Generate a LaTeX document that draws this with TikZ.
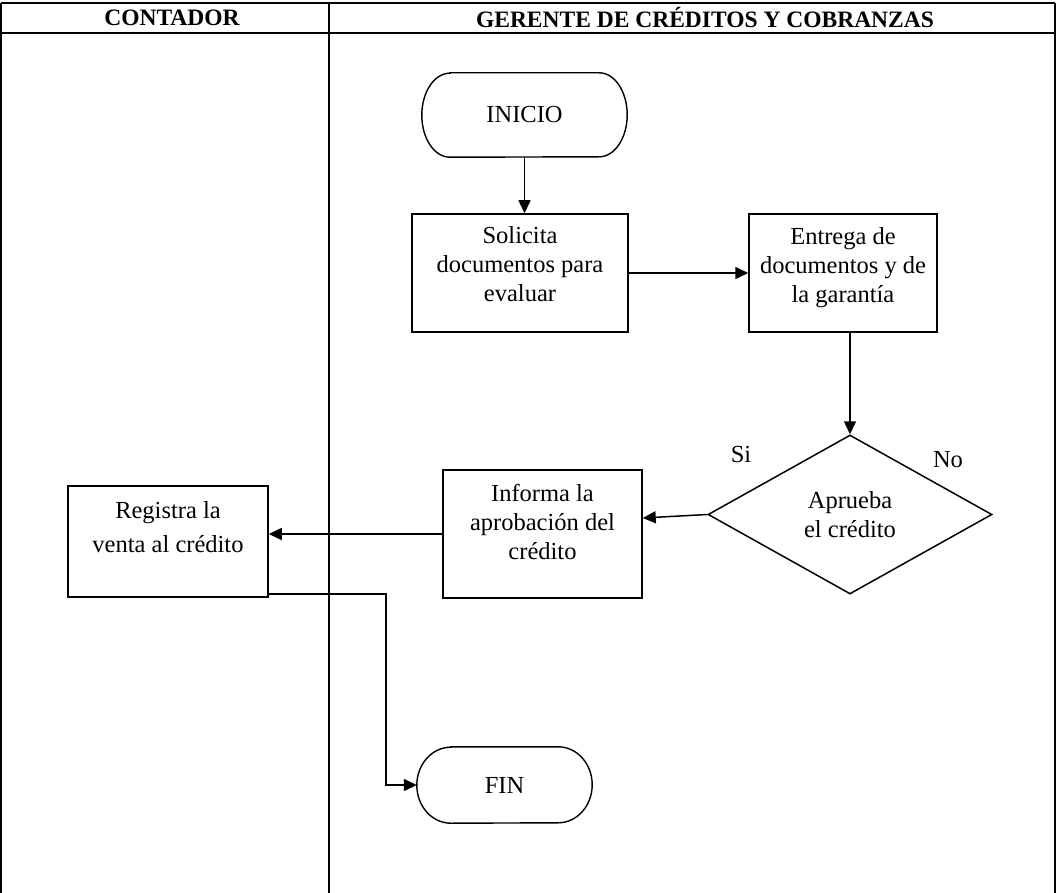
\documentclass[tikz,border=0pt]{standalone}
\usepackage{fontspec}
\setmainfont{Liberation Serif}
\usetikzlibrary{shapes.geometric,arrows.meta}

\begin{document}
\begin{tikzpicture}[x=1pt,y=-1pt,
  lane/.style={line width=1.6pt},
  head/.style={font=\fontsize{23.5}{25}\selectfont\bfseries, inner sep=0pt},
  stepbox/.style={draw, line width=1.5pt, inner sep=0pt},
  term/.style={inner sep=0pt, font=\fontsize{24.5}{29}\selectfont},
  termline/.style={line width=1.4pt},
  txt/.style={font=\fontsize{24.5}{29}\selectfont, align=center, inner sep=0pt, anchor=north},
  arr/.style={line width=1.5pt, -{Triangle[length=13pt,width=12pt]}}]

% canvas
\useasboundingbox (0,0) rectangle (1057,893);

% swimlane frame
\draw[lane] (1,3) -- (1055,3);
\draw[lane] (1,33) -- (1055,33);
\draw[lane] (1,3) -- (1,893);
\draw[lane] (329,3) -- (329,893);
\draw[lane] (1055,3) -- (1055,893);
\node[head] (h1) at (172,18) {CONTADOR};
\node[head] (h2) at (705,18) {GERENTE DE CRÉDITOS Y COBRANZAS};

% terminals: straight top and bottom, elliptic ends
\node[term, minimum width=205pt, minimum height=84pt] (ini) at (524.5,115) {INICIO};
\draw[termline] ([xshift=28pt]ini.north west) -- ([xshift=-28pt]ini.north east)
  arc[start angle=90, end angle=-90, x radius=28pt, y radius=42pt]
  -- ([xshift=28pt]ini.south west)
  arc[start angle=270, end angle=90, x radius=28pt, y radius=42pt] -- cycle;

\node[term, minimum width=175pt, minimum height=76pt] (fin) at (504.5,785) {FIN};
\draw[termline] ([xshift=34pt]fin.north west) -- ([xshift=-34pt]fin.north east)
  arc[start angle=90, end angle=-90, x radius=34pt, y radius=38pt]
  -- ([xshift=34pt]fin.south west)
  arc[start angle=270, end angle=90, x radius=34pt, y radius=38pt] -- cycle;

% process boxes
\node[stepbox, minimum width=216pt, minimum height=118pt] (sol) at (520,273) {};
\node[txt] (solt) at ([yshift=-13pt]sol.north) {Solicita\\documentos para\\evaluar};

\node[stepbox, minimum width=188pt, minimum height=118pt] (ent) at (843,273) {};
\node[txt] (entt) at ([yshift=-14pt]ent.north) {Entrega de\\documentos y de\\la garantía};

\node[stepbox, minimum width=199pt, minimum height=128pt] (inf) at (542.5,534) {};
\node[txt] (inft) at ([yshift=-15pt]inf.north) {Informa la\\aprobación del\\crédito};

\node[stepbox, minimum width=200pt, minimum height=111pt] (reg) at (168,541.5) {};
\node[txt, font=\fontsize{24.5}{34}\selectfont] (regt) at ([yshift=-16pt]reg.north)
  {Registra la\\venta al crédito};

% decision
\node[draw, line width=1.5pt, diamond, aspect=1.8, inner sep=0pt,
  minimum width=284pt, minimum height=159pt, align=center,
  font=\fontsize{24.5}{29}\selectfont] (dia) at (850,514.5) {Aprueba\\el crédito};
\node[font=\fontsize{24.5}{29}\selectfont, inner sep=0pt] (si) at (741,455) {Si};
\node[font=\fontsize{24.5}{29}\selectfont, inner sep=0pt] (no) at (948,460) {No};

% flow
\draw[arr] (ini.south) -- (ini.south |- sol.north);
\draw[arr] (sol.east) -- (sol.east -| ent.west);
\draw[arr] (dia.north |- ent.south) -- (dia.north);
\draw[arr] (dia.west) -- ([yshift=16pt]inf.east);
\draw[arr] (inf.west) -- (inf.west -| reg.east);
\draw[arr] ([yshift=4pt]reg.south east) -- ++(117,0) |- (fin.west);
\end{tikzpicture}
\end{document}
